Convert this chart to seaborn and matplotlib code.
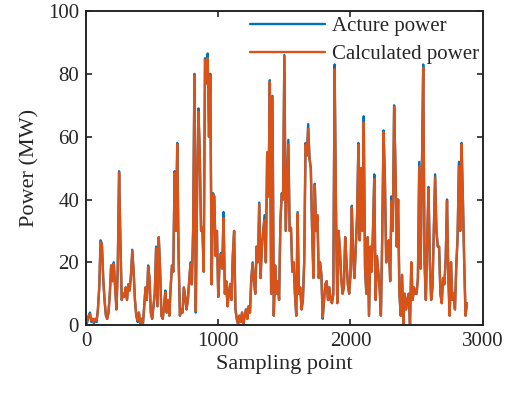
import numpy as np
import pandas as pd
import matplotlib
matplotlib.use("Agg")
import matplotlib.pyplot as plt
import seaborn as sns

# =========================
# Data (one value every 10 sampling points)
# =========================

step = 10

actual = [
    0, 1, 3, 4, 1, 2, 0.5, 2, 1, 5,
    12, 27, 26, 15, 8, 3, 2, 4, 10, 19,
    14, 20, 12, 5, 18, 49, 27, 8, 10, 9,
    12, 8, 13, 11, 16, 24, 17, 8, 3, 1,
    4, 0, 2, 0, 6, 12, 8, 19, 15, 4,
    2, 6, 10, 25, 6, 28, 18, 3, 2, 6,
    11, 4, 8, 3, 12, 19, 17, 49, 30, 58,
    22, 3, 5, 4, 12, 9, 5, 8, 14, 20,
    13, 30, 80, 4, 43, 69, 55, 30, 31, 17,
    85, 77, 86.5, 60, 80, 13, 42, 41, 22, 30,
    9, 20, 23, 18, 36, 10, 14, 6, 10, 13,
    8, 22, 30, 5, 2, 0, 3, 1, 4, 0,
    3, 5, 2, 6, 4, 15, 20, 14, 10, 25,
    20, 39, 15, 25, 30, 35, 20, 55, 41, 78,
    10, 73, 3, 19, 10, 14, 8, 33, 42, 40,
    86, 30, 44, 59, 30, 31, 17, 20, 10, 3,
    36, 10, 12, 5, 8, 20, 58, 54, 64, 53,
    50, 30, 15, 45, 30, 35, 15, 20, 16, 2,
    8, 13, 14, 8, 12, 8, 7, 10, 83, 38,
    7, 30, 24, 15, 10, 12, 28, 20, 13, 10,
    16, 38, 22, 15, 25, 35, 58, 27, 50, 30,
    66.5, 18, 10, 28, 3, 25, 17, 30, 48, 8,
    22, 17, 12, 3, 28, 62, 47, 20, 25, 27,
    14, 41, 30, 70, 50, 25, 40, 10, 3, 16,
    0, 10, 5, 8, 10, 0, 20, 8, 12, 10,
    10, 15, 52, 18, 49, 83, 20, 8, 27, 44,
    20, 8, 12, 30, 48, 30, 25, 25, 10, 7,
    15, 13, 21, 40, 15, 3, 20, 8, 10, 5,
    19, 28, 52, 30, 58, 40, 20, 3, 7,
]

calculated = [
    0.5, 1.5, 3, 3.5, 1.5, 2, 1, 2, 1.5, 5,
    12, 26.5, 25.5, 15, 8, 3.5, 2, 4, 10, 19,
    14, 19.5, 12, 5, 18, 48.5, 26.5, 8, 10, 9,
    12, 8, 13, 11, 16, 23.5, 17, 8, 3, 1.5,
    4, 0.5, 2, 0.5, 6, 12, 8, 18.5, 15, 4,
    2, 6, 10, 24.5, 6, 28, 18, 3, 2, 6,
    10.5, 4, 8, 3, 12, 19, 17, 48.5, 30, 57.5,
    22, 3, 5, 4, 12, 9, 5, 8, 14, 19.5,
    13, 30, 79.5, 4.5, 43, 68, 55, 30, 31, 17,
    84.5, 77, 85, 60, 79.5, 13, 41.5, 41, 22, 30,
    9, 20, 22.5, 18, 34, 10, 14, 6, 10, 13,
    8, 22, 30, 5, 2, 0.5, 3, 1, 4, 0.5,
    3, 5, 2, 6, 4, 15, 19.5, 14, 10, 25,
    20, 38.5, 15, 25, 30, 33.5, 20, 55, 41, 77.5,
    10, 72.5, 3, 19, 10, 14, 8, 33, 41.5, 40,
    85.5, 30, 44, 57.5, 30, 31, 17, 20, 10, 3,
    35.5, 10, 12, 5, 8, 20, 57.5, 54, 62.5, 53,
    50, 30, 15, 44.5, 30, 35, 15, 20, 16, 2.5,
    8, 13, 14, 8, 12, 8, 7, 10, 81.5, 38,
    7, 30, 24, 15, 10, 12, 28, 20, 13, 10,
    16, 37.5, 22, 15, 25, 35, 57.5, 27, 50, 30,
    64.5, 18, 10, 28, 3, 25, 17, 30, 46.5, 8,
    22, 17, 12, 3, 28, 61.5, 47, 20, 25, 27,
    14, 39.5, 30, 69.5, 50, 25, 40, 10, 3, 16,
    0.5, 10, 5, 8, 10, 0.5, 20, 8, 12, 10,
    10, 15, 50.5, 18, 48.5, 82, 20, 8, 27, 43.5,
    20, 8, 12, 30, 47, 30, 25, 25, 10, 7,
    15, 13, 21, 39.5, 15, 3, 20, 8, 10, 5,
    19, 28, 50.5, 30, 57.5, 40, 20, 3, 7,
]

series_names = ["Acture power", "Calculated power"]
colors = ["#0072BD", "#D95319"]

sample = np.arange(len(actual)) * step

df = pd.DataFrame({
    "Sampling point": np.concatenate([sample, sample]),
    "Power (MW)": actual + calculated,
    "series": [series_names[0]] * len(actual) + [series_names[1]] * len(calculated),
})

# =========================
# Plot
# =========================

sns.set_theme(style="ticks")
plt.rcParams["font.family"] = ["Liberation Serif", "DejaVu Serif"]

fig = plt.figure(figsize=(5.06, 3.96), dpi=100)
ax = fig.add_axes([0.170, 0.179, 0.784, 0.793])

sns.lineplot(
    data=df, x="Sampling point", y="Power (MW)", hue="series",
    palette=colors, estimator=None, linewidth=1.7, ax=ax,
)

ax.set_xlim(0, 3000)
ax.set_ylim(0, 100)
ax.set_xticks([0, 1000, 2000, 3000])
ax.set_yticks([0, 20, 40, 60, 80, 100])
ax.tick_params(direction="in", length=4, width=1.2, top=True, right=True,
               labelsize=15, colors="#262626", pad=5)
for s in ax.spines.values():
    s.set_linewidth(1.4)
    s.set_color("#262626")

ax.set_xlabel("Sampling point", fontsize=16, color="#262626", labelpad=3)
ax.set_ylabel("Power (MW)", fontsize=16, color="#262626", labelpad=6)

ax.legend(loc="upper right", bbox_to_anchor=(0.995, 0.99), frameon=False,
          fontsize=15, handlelength=3.6, handletextpad=0.3, borderaxespad=0.0,
          borderpad=0.1, labelspacing=0.4, title=None, labelcolor="#262626")

plt.savefig("out.png", dpi=100)
